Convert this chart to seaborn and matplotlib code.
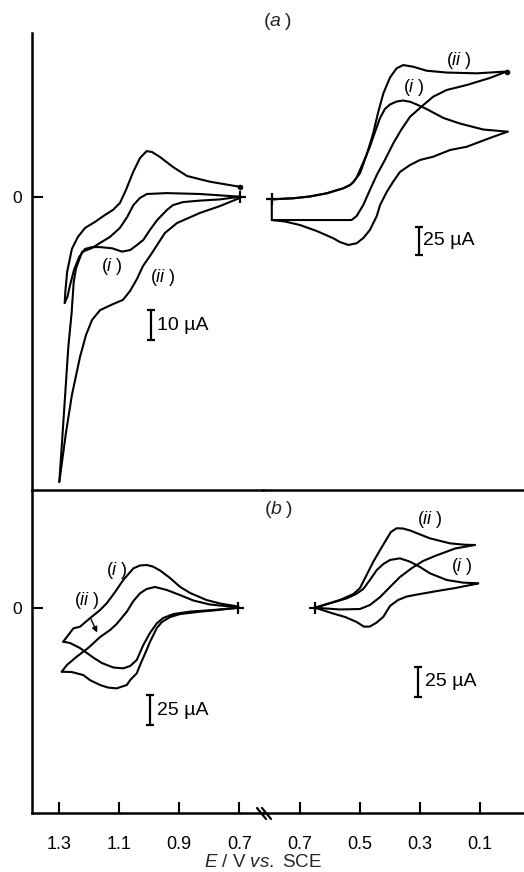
import matplotlib
matplotlib.use("Agg")
import matplotlib.pyplot as plt
import seaborn as sns
from matplotlib.lines import Line2D

# ---------------- data (E in V vs. SCE, current in uA) ----------------
# panel (a), left window 1.3-0.7 V
aL_i_fwd_E = [0.698, 0.764, 0.831, 0.888, 0.921, 0.941, 0.974, 0.998, 1.020, 1.041, 1.064,
              1.091, 1.124, 1.164, 1.191, 1.214, 1.234, 1.251, 1.264, 1.273, 1.282]
aL_i_fwd_I = [0.0, -0.9, -1.3, -1.8, -2.8, -4.4, -7.8, -11.1, -14.4, -16.1, -17.8,
              -18.3, -17.2, -16.8, -16.8, -17.4, -20.1, -24.4, -29.4, -33.4, -35.4]
aL_i_rev_E = [1.282, 1.280, 1.274, 1.258, 1.238, 1.214, 1.181, 1.148, 1.121, 1.098, 1.078,
              1.054, 1.031, 1.009, 0.991, 0.964, 0.921, 0.874, 0.798, 0.698]
aL_i_rev_I = [-35.4, -31.8, -25.1, -17.4, -13.4, -10.4, -8.4, -6.1, -4.4, -2.1, 2.2,
              8.2, 12.9, 15.2, 14.9, 13.2, 9.9, 6.9, 5.0, 3.3]
aL_ii_fwd_E = [0.698, 0.764, 0.831, 0.908, 0.948, 0.974, 0.998, 1.021, 1.041, 1.064, 1.088,
               1.121, 1.164, 1.191, 1.211, 1.231, 1.258, 1.278, 1.300]
aL_ii_fwd_I = [-0.4, -3.1, -5.4, -8.8, -12.1, -16.1, -19.8, -23.1, -27.4, -31.4, -34.4,
               -35.8, -37.8, -41.1, -46.1, -53.4, -66.1, -78.8, -95.1]
aL_ii_rev_E = [1.300, 1.292, 1.281, 1.270, 1.259, 1.252, 1.244, 1.224, 1.191, 1.164, 1.131,
               1.098, 1.074, 1.053, 1.031, 1.008, 0.942, 0.831, 0.698]
aL_ii_rev_I = [-95.1, -83.4, -66.8, -50.1, -38.8, -28.4, -23.8, -18.4, -17.1, -15.4, -13.4,
               -10.4, -6.8, -2.8, -0.4, 0.9, 1.2, 0.9, 0.0]

# panel (a), right window 0.7-0.0 V
aR_i_fwd_E = [0.794, 0.723, 0.667, 0.611, 0.556, 0.533, 0.522, 0.511, 0.490, 0.467, 0.450,
              0.433, 0.417, 0.400, 0.378, 0.357, 0.333, 0.311, 0.278, 0.222, 0.167, 0.089,
              0.033, 0.008]
aR_i_fwd_I = [-2.3, -1.4, 0.2, 3.0, 7.4, 10.3, 13.0, 17.0, 29.7, 44.1, 57.1,
              69.5, 77.4, 81.4, 84.0, 84.9, 83.8, 81.4, 77.4, 69.5, 64.6, 59.3,
              58.0, 57.4]
aR_i_rev_E = [0.008, 0.067, 0.144, 0.200, 0.256, 0.300, 0.333, 0.367, 0.390, 0.411, 0.433,
              0.444, 0.467, 0.489, 0.511, 0.539, 0.567, 0.589, 0.644, 0.700, 0.750, 0.794,
              0.794]
aR_i_rev_I = [57.4, 51.8, 44.1, 41.2, 35.3, 32.4, 28.0, 21.8, 13.0, 4.1, -7.3,
              -17.0, -29.4, -36.5, -41.1, -42.6, -40.0, -36.7, -30.3, -25.0, -21.9, -20.6,
              -2.9]
aR_ii_fwd_E = [0.794, 0.723, 0.667, 0.611, 0.556, 0.533, 0.522, 0.500, 0.478, 0.456, 0.440,
               0.422, 0.400, 0.378, 0.356, 0.322, 0.278, 0.211, 0.111, 0.011]
aR_ii_fwd_I = [-2.3, -1.4, 0.2, 3.0, 7.4, 10.3, 13.0, 20.7, 36.8, 56.0, 73.9,
               91.3, 105.2, 113.3, 116.2, 114.7, 111.2, 109.6, 108.9, 110.5]
aR_ii_rev_E = [0.011, 0.067, 0.144, 0.211, 0.256, 0.289, 0.333, 0.363, 0.389, 0.417, 0.444,
               0.467, 0.489, 0.511, 0.528, 0.611, 0.700, 0.794]
aR_ii_rev_I = [110.5, 104.8, 98.6, 94.2, 88.3, 80.9, 70.6, 58.9, 47.1, 32.4, 19.2,
               5.9, -7.3, -17.0, -20.6, -20.6, -20.6, -20.6]

# panel (b), left window
bL_i_fwd_E = [0.703, 0.787, 0.864, 0.920, 0.954, 0.975, 0.998, 1.020, 1.042, 1.064, 1.087,
              1.120, 1.158, 1.187, 1.231, 1.264, 1.287]
bL_i_fwd_I = [0.0, -1.9, -3.2, -5.3, -8.6, -13.0, -21.1, -31.1, -43.6, -48.6, -50.5,
              -49.8, -46.1, -41.5, -33.6, -29.4, -28.3]
bL_i_rev_E = [1.287, 1.253, 1.231, 1.198, 1.164, 1.142, 1.114, 1.087, 1.053, 1.031, 1.009,
              0.988, 0.964, 0.931, 0.898, 0.864, 0.809, 0.764, 0.703]
bL_i_rev_I = [-28.3, -17.2, -15.8, -8.8, -1.9, 3.7, 13.1, 23.1, 32.8, 35.2, 35.6,
              34.3, 31.0, 24.8, 17.5, 12.3, 6.4, 3.5, 1.0]
bL_ii_fwd_E = [0.703, 0.787, 0.831, 0.898, 0.931, 0.958, 0.975, 0.998, 1.009, 1.028, 1.042,
               1.064, 1.075, 1.109, 1.138, 1.164, 1.198, 1.220, 1.258, 1.292]
bL_ii_fwd_I = [0.0, -2.3, -3.3, -5.3, -7.8, -11.9, -16.9, -28.6, -35.3, -46.1, -54.7,
               -60.3, -64.4, -67.2, -66.5, -64.4, -60.3, -56.1, -53.6, -53.3]
bL_ii_rev_E = [1.292, 1.275, 1.242, 1.204, 1.164, 1.131, 1.109, 1.075, 1.053, 1.031, 1.009,
               0.981, 0.942, 0.898, 0.853, 0.798, 0.703]
bL_ii_rev_I = [-53.3, -47.8, -40.8, -33.6, -24.4, -18.6, -13.6, -3.3, 5.6, 12.0, 15.6,
               17.3, 14.8, 10.6, 6.0, 2.7, 0.3]

# panel (b), right window
bR_i_fwd_E = [0.650, 0.544, 0.513, 0.489, 0.467, 0.444, 0.422, 0.400, 0.367, 0.333, 0.300,
              0.267, 0.211, 0.156, 0.106]
bR_i_fwd_I = [0.0, 8.0, 11.7, 16.0, 23.7, 32.2, 37.4, 40.8, 42.2, 39.3, 34.8,
              29.4, 23.7, 21.4, 20.9]
bR_i_rev_E = [0.106, 0.183, 0.233, 0.300, 0.344, 0.373, 0.400, 0.422, 0.444, 0.467, 0.487,
              0.511, 0.550, 0.589, 0.650]
bR_i_rev_I = [20.7, 16.8, 14.7, 11.7, 9.6, 6.6, 1.5, -7.7, -12.6, -16.1, -16.2,
              -12.2, -7.9, -5.0, 0.0]
bR_ii_fwd_E = [0.650, 0.567, 0.522, 0.500, 0.483, 0.456, 0.433, 0.413, 0.397, 0.378, 0.357,
               0.333, 0.267, 0.200, 0.150, 0.117]
bR_ii_fwd_I = [0.0, 6.6, 11.7, 16.8, 25.4, 39.1, 49.3, 57.9, 64.7, 67.9, 67.7,
               66.0, 59.3, 55.0, 53.8, 53.6]
bR_ii_rev_E = [0.117, 0.183, 0.250, 0.290, 0.327, 0.367, 0.400, 0.433, 0.467, 0.500, 0.567,
               0.650]
bR_ii_rev_I = [53.6, 50.6, 44.2, 39.9, 33.9, 26.2, 17.7, 9.1, 2.3, -1.1, -1.5, 0.0]

left_ticks = [1.3, 1.1, 0.9, 0.7]
right_ticks = [0.7, 0.5, 0.3, 0.1]
scale_bars_uA = {"aL": 10, "aR": 25, "bL": 25, "bR": 25}

# ---------------- style ----------------
sns.set_theme(style="white")
plt.rcParams["font.family"] = ["Liberation Sans", "DejaVu Sans"]
plt.rcParams["mathtext.fontset"] = "custom"
plt.rcParams["mathtext.rm"] = "Liberation Sans"
plt.rcParams["mathtext.it"] = "Liberation Sans:italic"

W, H = 524, 872
fig = plt.figure(figsize=(W / 100, H / 100), dpi=100)
fig.patch.set_facecolor("white")


def rect(x0, y0, x1, y1):
    return [x0 / W, 1 - y1 / H, (x1 - x0) / W, (y1 - y0) / H]


LW = 1.5
axes = {
    "aL": fig.add_axes(rect(31.5, 33, 263, 490)),
    "aR": fig.add_axes(rect(263, 33, 524, 490)),
    "bL": fig.add_axes(rect(31.5, 490, 263, 813.3)),
    "bR": fig.add_axes(rect(263, 490, 524, 813.3)),
}
xl = {"aL": (1.3927, 0.621), "bL": (1.3927, 0.621), "aR": (0.8233, -0.0467), "bR": (0.8233, -0.0467)}
yl = {"aL": (-97.77, 54.57), "aR": (-258.9, 144.5), "bL": (-171.3, 98.1), "bR": (-175.7, 100.6)}

for k, ax in axes.items():
    ax.set_facecolor("none")
    ax.set_xlim(*xl[k])
    ax.set_ylim(*yl[k])
    for s in ax.spines.values():
        s.set_visible(False)
        s.set_color("black")
        s.set_linewidth(1.8)
    ax.set_xticks([])
    ax.set_yticks([])

curves = {
    "aL": [(aL_i_fwd_E, aL_i_fwd_I), (aL_i_rev_E, aL_i_rev_I), (aL_ii_fwd_E, aL_ii_fwd_I), (aL_ii_rev_E, aL_ii_rev_I)],
    "aR": [(aR_i_fwd_E, aR_i_fwd_I), (aR_i_rev_E, aR_i_rev_I), (aR_ii_fwd_E, aR_ii_fwd_I), (aR_ii_rev_E, aR_ii_rev_I)],
    "bL": [(bL_i_fwd_E, bL_i_fwd_I), (bL_i_rev_E, bL_i_rev_I), (bL_ii_fwd_E, bL_ii_fwd_I), (bL_ii_rev_E, bL_ii_rev_I)],
    "bR": [(bR_i_fwd_E, bR_i_fwd_I), (bR_i_rev_E, bR_i_rev_I), (bR_ii_fwd_E, bR_ii_fwd_I), (bR_ii_rev_E, bR_ii_rev_I)],
}
for k, lst in curves.items():
    ax = axes[k]
    for E, I in lst:
        sns.lineplot(x=E, y=I, sort=False, estimator=None, ax=ax, color="black",
                     linewidth=LW, solid_joinstyle="round", solid_capstyle="round")
    # start marker
    ax.plot(lst[0][0][0], lst[0][1][0], marker="+", color="black", markersize=9, mew=1.6)

# end dots
axes["aL"].plot(aL_i_rev_E[-1], aL_i_rev_I[-1], "o", color="black", markersize=3)
axes["aR"].plot(aR_ii_fwd_E[-1], aR_ii_fwd_I[-1], "o", color="black", markersize=3)

# spines / ticks
axes["aL"].spines["left"].set_visible(True)
axes["bL"].spines["left"].set_visible(True)
for k in ("bL", "bR"):
    axes[k].spines["bottom"].set_visible(True)
    axes[k].spines["top"].set_visible(True)

for k in ("aL", "bL"):
    ax = axes[k]
    ax.set_yticks([0])
    ax.set_yticklabels(["0"])
    ax.tick_params(axis="y", left=True, direction="in", length=8, width=1.5,
                   labelsize=12.5, pad=7, colors="black")

axes["bL"].set_xticks(left_ticks)
axes["bL"].set_xticklabels([f"{v:.1f}" for v in left_ticks])
axes["bR"].set_xticks(right_ticks)
axes["bR"].set_xticklabels([f"{v:.1f}" for v in right_ticks])
for k in ("bL", "bR"):
    axes[k].tick_params(axis="x", bottom=True, direction="in", length=8, width=1.5,
                        labelsize=13, pad=16, colors="black")

# scale bars
bars = {"aL": (0.995, -37.8, 0.974), "aR": (0.303, -26.5, 0.290),
        "bL": (0.998, -72.8, 0.974), "bR": (0.306, -50.9, 0.283)}
capw = 0.013
for k, (x, ytop, xt) in bars.items():
    ax = axes[k]
    v = scale_bars_uA[k]
    ax.vlines(x, ytop - v, ytop, color="black", linewidth=1.6)
    ax.hlines([ytop, ytop - v], x - capw, x + capw, color="black", linewidth=1.6)
    ax.text(xt, ytop - v / 2, f"{v} \u00b5A", fontsize=14, ha="left", va="center", color="black")

# curve labels
lab = dict(fontsize=13, ha="center", va="center", color="black")
ii = r"($\mathit{ii}\;$)"
i1 = r"($\mathit{i}\;$)"
axes["aR"].text(0.173, 120.6, ii, **lab)
axes["aR"].text(0.323, 96.8, i1, **lab)
axes["aL"].text(1.125, -23.3, i1, **lab)
axes["aL"].text(0.955, -27.1, ii, **lab)
axes["bR"].text(0.267, 75.0, ii, **lab)
axes["bR"].text(0.161, 35.0, i1, **lab)
axes["bL"].text(1.109, 31.4, i1, **lab)
axes["bL"].text(1.209, 6.4, ii, **lab)
axes["bL"].annotate("", xy=(1.170, -22.8), xytext=(1.198, -7.5),
                    arrowprops=dict(arrowstyle="-|>", color="black", lw=1.0, mutation_scale=8))

# panel titles and axis label
fig.text(278 / W, 1 - 22 / H, r"($\mathit{a}\;$)", fontsize=14, ha="center", va="center")
fig.text(279 / W, 1 - 510 / H, r"($\mathit{b}\;$)", fontsize=14, ha="center", va="center")
fig.text(263 / W, 1 - 866.5 / H, r"$\mathit{E}$ / V $\mathit{vs.}$ SCE", fontsize=13.5,
         ha="center", va="baseline")

# axis break marks
for dx in (0, 5):
    fig.add_artist(Line2D([(257 + dx) / W, (266 + dx) / W], [1 - 808 / H, 1 - 819 / H],
                          color="black", linewidth=1.6))

fig.savefig("out.png", dpi=100, facecolor="white")
